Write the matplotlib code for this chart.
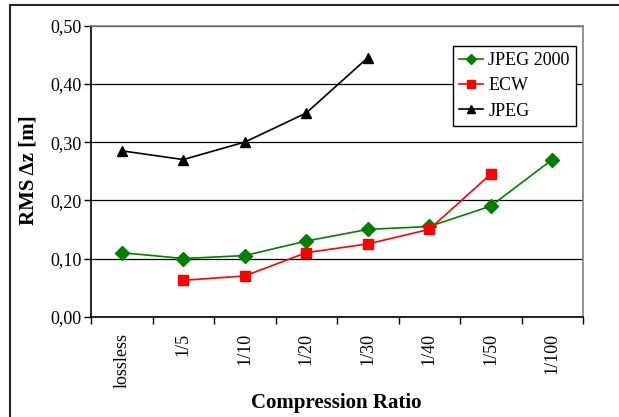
import matplotlib.pyplot as plt
from matplotlib.patches import Rectangle

categories = ['lossless', '1/5', '1/10', '1/20', '1/30', '1/40', '1/50', '1/100']
jpeg2000 = [0.11, 0.10, 0.105, 0.13, 0.15, 0.155, 0.19, 0.27]
ecw = [None, 0.0625, 0.07, 0.11, 0.125, 0.15, 0.245, None]
jpeg = [0.285, 0.27, 0.30, 0.35, 0.445, None, None, None]
yticks = [0.0, 0.1, 0.2, 0.3, 0.4, 0.5]

W, H = 619, 417
plt.rcParams['font.family'] = ['Liberation Serif', 'DejaVu Serif']

fig = plt.figure(figsize=(W / 100, H / 100), dpi=100)
ax = fig.add_axes([91 / W, 1 - 316.7 / H, 492 / W, 291 / H])

# outer chart border
fig.patches.append(Rectangle((10 / W, -0.05), 1.05, 1 - 5 / H + 0.05,
                             transform=fig.transFigure, fill=False,
                             edgecolor='#222222', linewidth=1.5))


def series(vals):
    xs = [i for i, v in enumerate(vals) if v is not None]
    ys = [v for v in vals if v is not None]
    return xs, ys


x, y = series(jpeg2000)
ax.plot(x, y, color='#008000', marker='D', markersize=7, linewidth=1.2, label='JPEG 2000')
x, y = series(ecw)
ax.plot(x, y, color='#ff0000', marker='s', markersize=6.5, linewidth=1.2, label='ECW')
x, y = series(jpeg)
ax.plot(x, y, color='black', marker='^', markersize=7, linewidth=1.2, label='JPEG')

ax.set_xlim(-0.5, len(categories) - 0.5)
ax.set_ylim(0, 0.5)
ax.set_yticks(yticks)
ax.set_yticklabels([f'{v:.2f}'.replace('.', ',') for v in yticks], fontsize=13)
ax.yaxis.grid(True, color='black', linewidth=0.9)
ax.set_axisbelow(True)

ax.set_xticks([i - 0.5 for i in range(len(categories) + 1)])
ax.set_xticklabels([])
ax.set_xticks(range(len(categories)), minor=True)
ax.set_xticklabels(categories, minor=True, rotation=90, fontsize=13)
ax.tick_params(axis='x', which='minor', length=0, pad=12)
ax.tick_params(axis='x', which='major', direction='out', length=5, width=1)
ax.tick_params(axis='y', direction='out', length=5, width=1, pad=2)

for side in ['top', 'right']:
    ax.spines[side].set_color('#808080')
    ax.spines[side].set_linewidth(1.2)
for side in ['left', 'bottom']:
    ax.spines[side].set_color('black')
    ax.spines[side].set_linewidth(1.2)

fig.text(336 / W, 1 - 403 / H, 'Compression Ratio', fontsize=15, fontweight='bold',
         ha='center', va='center')
fig.text(29 / W, 1 - 170 / H, 'RMS \u0394z [m]', fontsize=15, fontweight='bold',
         ha='center', va='center', rotation=90)

leg = ax.legend(loc='upper left', bbox_to_anchor=(453 / W, 1 - 46 / H),
                bbox_transform=fig.transFigure, fontsize=13, frameon=True,
                fancybox=False, edgecolor='black', framealpha=1,
                handlelength=1.3, handletextpad=0.3, labelspacing=0.45,
                borderpad=0.35, borderaxespad=0, markerscale=0.8)
leg.get_frame().set_linewidth(1.0)

fig.savefig('out.png', dpi=100)
